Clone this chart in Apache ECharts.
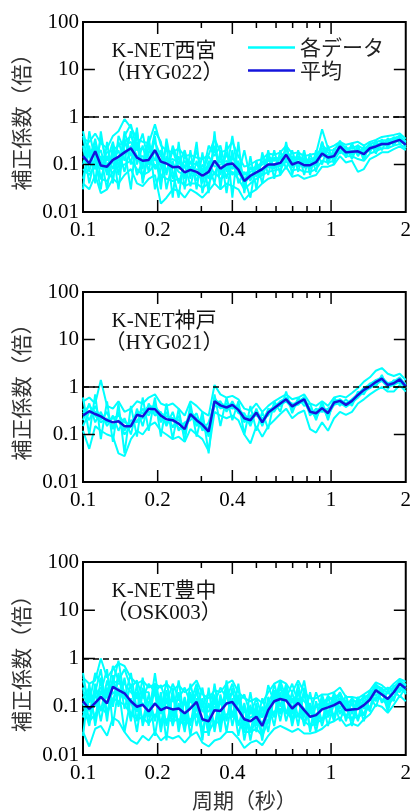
<!DOCTYPE html>
<html>
<head>
<meta charset="utf-8">
<script src="https://cdn.jsdelivr.net/npm/echarts@6/dist/echarts.min.js"></script>
<style>
  html, body { margin: 0; padding: 0; background: #fff; }
  #chart { width: 414px; height: 812px; }
</style>
</head>
<body>
<div id="chart"></div>
<script>
// period grid (s), shared by every record
const periods = [0.1, 0.106, 0.112, 0.118, 0.125, 0.132, 0.139, 0.147, 0.156, 0.165, 0.174,
  0.184, 0.195, 0.206, 0.217, 0.23, 0.243, 0.257, 0.271, 0.287, 0.303, 0.321,
  0.339, 0.358, 0.379, 0.4, 0.423, 0.447, 0.473, 0.5, 0.528, 0.558, 0.59,
  0.624, 0.659, 0.697, 0.737, 0.779, 0.823, 0.87, 0.92, 0.972, 1.028, 1.086,
  1.148, 1.214, 1.283, 1.356, 1.434, 1.515, 1.602, 1.693, 1.79, 1.892, 2]

const xMajorTicks = [0.1, 0.2, 0.4, 1, 2]
const xMinorTicks = [0.3, 0.5, 0.6, 0.7, 0.8, 0.9]
const yTicks = [0.01, 0.1, 1, 10, 100]

// K-NET西宮 (HYG022)
const hyg022Mean = [.15, .105, .19, .095, .09, .125, .145, .18, .22, .14, .12,
  .125, .2, .115, .105, .088, .09, .068, .077, .07, .058, .07,
  .12, .082, .1, .105, .078, .045, .058, .068, .08, .1, .1,
  .108, .16, .1, .112, .097, .097, .112, .17, .14, .15, .24,
  .18, .185, .19, .165, .22, .24, .27, .27, .3, .33, .26]
const hyg022Records = [
  [.35, .3, .45, .28, .22, .4, .5, .9, .6, .35, .3,
    .28, .7, .25, .2, .18, .22, .15, .16, .14, .13, .16,
    .35, .18, .2, .3, .15, .09, .1, .12, .13, .17, .16,
    .18, .25, .17, .18, .15, .16, .17, .55, .22, .25, .3,
    .26, .28, .3, .25, .3, .33, .38, .4, .42, .45, .35],
  [.04, .03, .06, .025, .03, .05, .04, .06, .08, .04, .035,
    .05, .06, .015, .02, .03, .028, .02, .03, .025, .02, .028,
    .04, .03, .04, .035, .03, .018, .025, .03, .04, .05, .055,
    .06, .09, .055, .06, .05, .055, .06, .09, .09, .1, .15,
    .11, .12, .07, .08, .13, .15, .18, .18, .21, .24, .2],
  [.2, .15, .3, .12, .18, .2, .25, .3, .4, .2, .22,
    .18, .3, .15, .12, .13, .11, .09, .11, .1, .08, .09,
    .2, .11, .15, .14, .1, .06, .08, .09, .11, .14, .13,
    .14, .2, .13, .15, .12, .13, .14, .25, .2, .2, .3,
    .22, .22, .25, .21, .27, .3, .32, .33, .36, .4, .3],
  [.08, .06, .1, .05, .045, .07, .09, .1, .12, .08, .06,
    .07, .1, .06, .05, .045, .05, .035, .04, .04, .032, .04,
    .07, .05, .06, .07, .05, .03, .04, .05, .06, .07, .075,
    .08, .12, .075, .08, .07, .07, .08, .12, .11, .12, .19,
    .15, .15, .13, .12, .17, .19, .22, .22, .25, .27, .22],
  [.4, .07, .25, .05, .15, .08, .3, .12, .5, .1, .25,
    .07, .4, .04, .15, .05, .15, .05, .12, .045, .1, .05,
    .25, .06, .18, .08, .12, .035, .09, .055, .12, .085, .14,
    .09, .22, .085, .14, .085, .12, .095, .3, .12, .18, .2,
    .2, .16, .22, .14, .25, .21, .3, .25, .33, .3, .28],
  [.05, .2, .08, .15, .03, .25, .06, .5, .15, .3, .05,
    .25, .12, .2, .03, .12, .04, .1, .035, .12, .04, .12,
    .06, .15, .05, .2, .04, .07, .045, .09, .06, .13, .08,
    .14, .13, .13, .09, .12, .08, .13, .15, .16, .13, .26,
    .16, .2, .17, .19, .2, .26, .25, .3, .28, .36, .24],
  [.12, .1, .35, .08, .1, .15, .12, .25, .3, .15, .15,
    .1, .2, .09, .08, .1, .07, .06, .09, .06, .05, .07,
    .12, .07, .1, .09, .07, .04, .06, .07, .08, .1, .1,
    .11, .16, .1, .11, .1, .1, .11, .2, .15, .16, .25,
    .19, .19, .2, .17, .23, .25, .28, .28, .31, .34, .27],
  [.25, .04, .15, .2, .06, .12, .2, .07, .25, .06, .12,
    .3, .08, .12, .07, .2, .08, .12, .06, .08, .07, .15,
    .09, .1, .12, .06, .09, .05, .07, .08, .1, .12, .12,
    .13, .17, .11, .13, .11, .11, .13, .2, .13, .17, .22,
    .2, .17, .21, .18, .24, .22, .29, .29, .32, .31, .29],
  [.5, .15, .08, .35, .12, .3, .09, .4, .7, .2, .45,
    .1, .5, .3, .06, .25, .1, .2, .07, .2, .06, .25,
    .15, .25, .07, .4, .06, .2, .05, .1, .07, .15, .09,
    .15, .12, .15, .1, .14, .09, .15, .22, .18, .14, .28,
    .17, .24, .18, .2, .21, .28, .26, .32, .3, .38, .3],
  [.03, .5, .12, .03, .3, .04, .4, .2, .03, .5, .08,
    .4, .03, .08, .25, .02, .3, .03, .2, .03, .18, .025,
    .5, .03, .3, .02, .3, .025, .15, .03, .18, .06, .2,
    .06, .3, .06, .2, .06, .17, .07, .3, .1, .22, .17,
    .24, .13, .26, .12, .3, .17, .34, .22, .38, .28, .32],
  [.1, .25, .04, .5, .07, .2, .03, .35, .1, .6, .04,
    .18, .2, .03, .35, .07, .02, .18, .05, .3, .025, .1,
    .04, .2, .025, .15, .09, .05, .02, .12, .04, .2, .05,
    .2, .08, .2, .07, .2, .06, .2, .1, .25, .1, .32,
    .14, .28, .15, .24, .18, .32, .2, .36, .25, .42, .22]
]

// K-NET神戸 (HYG021)
const hyg021Mean = [.25, .31, .27, .24, .2, .18, .19, .15, .15, .26, .24,
  .35, .34, .25, .21, .2, .17, .13, .27, .2, .16, .115,
  .5, .41, .37, .42, .33, .22, .2, .29, .18, .29, .36,
  .45, .55, .39, .47, .55, .3, .28, .36, .28, .47, .51,
  .42, .51, .68, .87, 1.03, 1.27, 1.5, 1.1, 1.2, 1.45, 1.03]
const hyg021Records = [
  [.5, .6, .45, 1.4, .4, .35, .5, .3, .35, .5, .45,
    .6, .7, .45, .4, .45, .35, .25, .5, .4, .3, .25,
    1.1, .7, .6, .65, .55, .35, .32, .45, .3, .4, .5,
    .6, .7, .55, .6, .7, .45, .4, .5, .4, .6, .65,
    .6, .75, .95, 1.3, 1.6, 2.2, 2.5, 1.9, 1.7, 1.9, 1.4],
  [.12, .05, .15, .12, .1, .09, .04, .035, .08, .12, .1,
    .15, .18, .12, .1, .08, .09, .07, .13, .1, .08, .045,
    .3, .25, .22, .25, .2, .1, .065, .15, .09, .15, .2,
    .27, .35, .22, .28, .32, .13, .11, .18, .12, .22, .3,
    .26, .3, .45, .55, .7, .85, 1.0, .8, .8, 1.1, .8],
  [.2, .45, .18, .3, .15, .25, .12, .22, .1, .35, .15,
    .45, .25, .3, .15, .3, .12, .18, .2, .28, .12, .18,
    .45, .5, .3, .5, .28, .28, .15, .35, .15, .35, .3,
    .5, .5, .45, .42, .62, .25, .35, .3, .35, .42, .55,
    .38, .55, .6, .95, .95, 1.4, 1.35, 1.2, 1.1, 1.55, .95],
  [.35, .2, .4, .2, .3, .13, .3, .12, .2, .18, .35,
    .25, .45, .18, .3, .14, .25, .1, .35, .15, .22, .09,
    .6, .35, .45, .35, .4, .18, .25, .25, .22, .25, .42,
    .4, .6, .33, .52, .48, .35, .22, .42, .22, .5, .45,
    .45, .45, .75, .75, 1.15, 1.1, 1.7, 1.0, 1.35, 1.3, 1.15],
  [.15, .3, .25, .18, .22, .15, .2, .1, .15, .2, .22,
    .3, .3, .22, .18, .2, .14, .12, .25, .18, .14, .1,
    .4, .38, .33, .38, .3, .2, .18, .28, .16, .28, .33,
    .42, .5, .36, .44, .5, .28, .26, .33, .26, .42, .46,
    .38, .46, .6, .8, .95, 1.15, 1.35, 1.0, 1.1, 1.3, .95],
  [.28, .4, .3, .25, .18, .22, .25, .18, .16, .3, .28,
    .4, .38, .28, .24, .22, .2, .15, .3, .22, .18, .13,
    .55, .45, .4, .45, .36, .25, .22, .32, .2, .32, .38,
    .5, .6, .42, .5, .6, .33, .3, .4, .3, .5, .55,
    .45, .55, .72, .95, 1.15, 1.4, 1.6, 1.2, 1.3, 1.6, 1.1],
  [.6, .1, .7, .08, .5, .07, .45, .04, .4, .09, .6,
    .12, .6, .09, .45, .08, .35, .07, .45, .09, .3, .04,
    .7, .15, .6, .2, .5, .1, .4, .12, .3, .13, .5,
    .3, .8, .28, .6, .4, .45, .2, .5, .2, .6, .4,
    .55, .4, .8, .7, 1.2, 1.0, 1.8, .9, 1.4, 1.2, 1.2]
]

// K-NET豊中 (OSK003)
const osk003Mean = [.13, .09, .12, .16, .117, .26, .22, .19, .13, .1, .11,
  .08, .117, .085, .097, .088, .092, .073, .092, .126, .055, .05,
  .085, .082, .117, .126, .085, .055, .05, .062, .04, .085, .13,
  .145, .135, .092, .12, .085, .062, .067, .088, .097, .108, .126,
  .085, .088, .09, .108, .14, .22, .18, .145, .2, .3, .24]
const osk003Records = [
  [.4, .3, .35, 1.0, .4, .6, .8, .7, .4, .3, .35,
    .25, .3, .25, .3, .22, .28, .2, .25, .35, .18, .15,
    .22, .2, .3, .35, .2, .15, .13, .15, .12, .2, .3,
    .35, .3, .2, .35, .2, .15, .15, .18, .18, .2, .25,
    .16, .16, .15, .18, .22, .32, .28, .22, .3, .38, .33],
  [.03, .015, .035, .04, .025, .06, .05, .03, .02, .017, .025,
    .02, .03, .02, .025, .022, .025, .018, .025, .03, .018, .015,
    .02, .022, .03, .03, .022, .014, .018, .02, .016, .025, .035,
    .04, .035, .03, .035, .028, .028, .03, .035, .045, .05, .06,
    .04, .045, .04, .055, .07, .11, .1, .075, .11, .17, .13],
  [.25, .05, .3, .08, .35, .12, .5, .09, .3, .05, .25,
    .04, .3, .04, .22, .045, .2, .035, .2, .06, .15, .03,
    .18, .04, .25, .06, .18, .03, .11, .03, .1, .045, .22,
    .07, .25, .05, .22, .045, .12, .04, .15, .06, .16, .07,
    .14, .05, .14, .065, .2, .13, .25, .09, .26, .2, .3],
  [.06, .2, .05, .4, .05, .45, .1, .4, .06, .2, .05,
    .18, .05, .2, .04, .18, .04, .16, .04, .25, .03, .12,
    .04, .18, .05, .25, .04, .12, .03, .12, .025, .16, .06,
    .3, .07, .2, .06, .2, .035, .13, .05, .16, .06, .2,
    .05, .15, .055, .17, .09, .3, .12, .22, .13, .36, .18],
  [.2, .15, .18, .25, .18, .35, .3, .3, .2, .15, .16,
    .12, .18, .13, .15, .13, .14, .11, .14, .19, .08, .08,
    .13, .12, .17, .19, .13, .08, .08, .09, .06, .13, .2,
    .22, .2, .14, .18, .13, .09, .1, .13, .14, .16, .18,
    .12, .13, .13, .15, .19, .28, .24, .19, .26, .33, .28],
  [.08, .05, .07, .1, .07, .15, .13, .11, .07, .055, .06,
    .045, .07, .05, .055, .05, .055, .04, .055, .07, .03, .03,
    .05, .045, .07, .07, .05, .03, .03, .035, .025, .05, .08,
    .09, .08, .055, .07, .05, .04, .045, .055, .065, .07, .085,
    .06, .06, .06, .075, .1, .16, .14, .11, .15, .24, .19],
  [.35, .12, .5, .3, .15, .7, .35, .6, .25, .35, .15,
    .3, .2, .28, .12, .3, .15, .25, .12, .3, .1, .2,
    .12, .25, .15, .3, .12, .18, .07, .15, .06, .28, .12,
    .35, .15, .3, .12, .35, .07, .2, .09, .17, .12, .2,
    .1, .15, .11, .17, .15, .3, .2, .25, .22, .36, .27],
  [.15, .25, .1, .2, .12, .2, .18, .15, .12, .08, .12,
    .07, .12, .09, .1, .08, .1, .07, .1, .12, .05, .06,
    .1, .08, .12, .13, .09, .05, .06, .07, .045, .09, .14,
    .15, .14, .1, .13, .09, .06, .07, .09, .1, .11, .13,
    .09, .09, .095, .11, .14, .21, .18, .15, .2, .29, .24],
  [.5, .08, .2, .6, .07, .3, .9, .15, .5, .08, .4,
    .06, .5, .07, .35, .06, .35, .05, .3, .08, .25, .04,
    .3, .05, .35, .06, .3, .04, .2, .04, .15, .06, .3,
    .1, .3, .07, .3, .06, .2, .05, .18, .07, .2, .09,
    .17, .07, .16, .09, .22, .17, .24, .12, .27, .24, .3],
  [.025, .3, .04, .2, .6, .04, .25, .03, .15, .03, .2,
    .2, .025, .15, .02, .25, .03, .15, .025, .15, .02, .25,
    .03, .15, .03, .15, .025, .1, .02, .09, .02, .12, .04,
    .2, .05, .15, .04, .25, .03, .12, .04, .12, .05, .15,
    .06, .12, .05, .14, .08, .25, .13, .2, .15, .32, .2],
  [.12, .04, .2, .05, .25, .1, .4, .2, .05, .3, .04,
    .12, .2, .03, .15, .04, .12, .03, .18, .04, .12, .025,
    .15, .03, .2, .04, .15, .02, .09, .05, .1, .03, .18,
    .05, .2, .04, .15, .04, .1, .03, .13, .04, .12, .05,
    .12, .04, .12, .05, .17, .1, .22, .08, .22, .16, .26]
]

const CYAN = '#00ffff'
const BLUE = '#1414dc'
const SERIF = '"Liberation Serif", "Noto Sans CJK JP", serif'
const CJK = '"Noto Sans CJK JP", sans-serif'
const Y_MIN = yTicks[0]
const Y_MAX = yTicks[yTicks.length - 1]
const X_MIN = xMajorTicks[0]
const X_MAX = xMajorTicks[xMajorTicks.length - 1]
const PLOT_WIDTH = 325

const panels = [
  { name: 'K-NET西宮', code: '（HYG022）', mean: hyg022Mean, records: hyg022Records, top: 22, height: 190 },
  { name: 'K-NET神戸', code: '（HYG021）', mean: hyg021Mean, records: hyg021Records, top: 292, height: 190 },
  { name: 'K-NET豊中', code: '（OSK003）', mean: osk003Mean, records: osk003Records, top: 562, height: 194 }
]

// value axis (log10 of period) laid over the log axis, only for the 0.1/0.2/0.4/1/2 labels
function labelAxis (g, name) {
  const vals = xMajorTicks.map(v => Math.log10(v))
  return {
    type: 'value',
    gridIndex: g,
    position: 'bottom',
    min: Math.log10(X_MIN),
    max: Math.log10(X_MAX),
    axisLine: { show: false, onZero: false },
    axisTick: { show: false },
    splitLine: { show: false },
    axisLabel: {
      show: true, customValues: vals, margin: 8, fontSize: 21, fontFamily: SERIF, color: '#000',
      formatter: v => String(+Math.pow(10, v).toPrecision(2))
    },
    name: name || '',
    nameLocation: 'middle',
    nameGap: 35,
    nameTextStyle: { fontFamily: CJK, fontSize: 21, color: '#333' }
  }
}

function logYAxis (g, position, withLabel) {
  return {
    type: 'log',
    logBase: 10,
    gridIndex: g,
    position,
    min: Y_MIN,
    max: Y_MAX,
    axisLine: { show: false, onZero: false },
    splitLine: { show: false },
    axisTick: { show: false },
    axisLabel: withLabel
      ? { show: true, margin: 4, fontSize: 21, fontFamily: SERIF, color: '#000',
          formatter: v => String(+(+v).toPrecision(2)) }
      : { show: false },
    name: withLabel ? '補正係数（倍）' : '',
    nameLocation: 'middle',
    nameRotate: 90,
    nameGap: 45,
    nameTextStyle: { fontFamily: CJK, fontSize: 21, color: '#333' }
  }
}

function lineSeries (name, values, xIndex, yIndex, color, width) {
  return {
    name,
    type: 'line',
    xAxisIndex: xIndex,
    yAxisIndex: yIndex,
    symbol: 'none',
    silent: true,
    lineStyle: { color, width },
    itemStyle: { color },
    data: values.map((v, i) => [periods[i], v])
  }
}

// inward frame ticks as short broken polyline pieces; tick length given in pixels
function frameTickData (height) {
  const yStep = len => Math.pow(10, Math.log10(Y_MAX / Y_MIN) * len / height)
  const xStep = len => Math.pow(10, Math.log10(X_MAX / X_MIN) * len / PLOT_WIDTH)
  const pts = []
  const seg = (a, b) => { pts.push(a, b, [a[0], '-']) }
  const vertical = (list, len) => list.forEach(t => {
    seg([t, Y_MIN], [t, Y_MIN * yStep(len)])
    seg([t, Y_MAX], [t, Y_MAX / yStep(len)])
  })
  vertical(xMajorTicks.slice(1, -1), 12)
  vertical(xMinorTicks, 6)
  yTicks.slice(1, -1).forEach(v => {
    seg([X_MIN, v], [X_MIN * xStep(12), v])
    seg([X_MAX, v], [X_MAX / xStep(12), v])
  })
  return pts
}

const grid = []
const xAxis = []
const yAxis = []
const series = []
const title = []

panels.forEach((p, g) => {
  grid.push({ left: 83, right: 6, top: p.top, height: p.height, show: true, borderColor: '#000', borderWidth: 2, backgroundColor: 'transparent' })
  const xi = xAxis.length
  xAxis.push({ type: 'log', logBase: 10, gridIndex: g, min: X_MIN, max: X_MAX, show: false, axisLine: { onZero: false } })
  xAxis.push(labelAxis(g, g === panels.length - 1 ? '周期（秒）' : ''))
  yAxis.push(logYAxis(g, 'left', true))
  yAxis.push(logYAxis(g, 'right', false))

  p.records.forEach(r => series.push(lineSeries('各データ', r, xi, 2 * g, CYAN, 2)))
  const mean = lineSeries('平均', p.mean, xi, 2 * g, BLUE, 2.5)
  mean.markLine = {
    silent: true,
    symbol: 'none',
    label: { show: false },
    lineStyle: { color: '#000', type: [6, 4], width: 1.5 },
    data: [{ yAxis: 1 }]
  }
  series.push(mean)

  series.push({
    name: 'frame',
    type: 'line',
    xAxisIndex: xi,
    yAxisIndex: 2 * g,
    symbol: 'none',
    silent: true,
    clip: false,
    connectNulls: false,
    lineStyle: { color: '#000', width: 1.5 },
    data: frameTickData(p.height)
  })

  title.push({
    text: p.name + '\n' + p.code,
    left: 164,
    top: p.top + 18,
    padding: 0,
    textAlign: 'center',
    textStyle: { fontFamily: SERIF, fontSize: 21, fontWeight: 'normal', color: '#111', lineHeight: 22 }
  })
})

const chart = echarts.init(document.getElementById('chart'))
chart.setOption({
  animation: false,
  title,
  legend: {
    data: ['各データ', '平均'],
    orient: 'vertical',
    left: 248,
    top: 37,
    padding: 0,
    icon: 'rect',
    itemWidth: 47,
    itemHeight: 2.5,
    itemGap: 2,
    selectedMode: false,
    textStyle: { fontFamily: CJK, fontSize: 21, color: '#222', lineHeight: 21 }
  },
  grid,
  xAxis,
  yAxis,
  series
})
</script>
</body>
</html>
